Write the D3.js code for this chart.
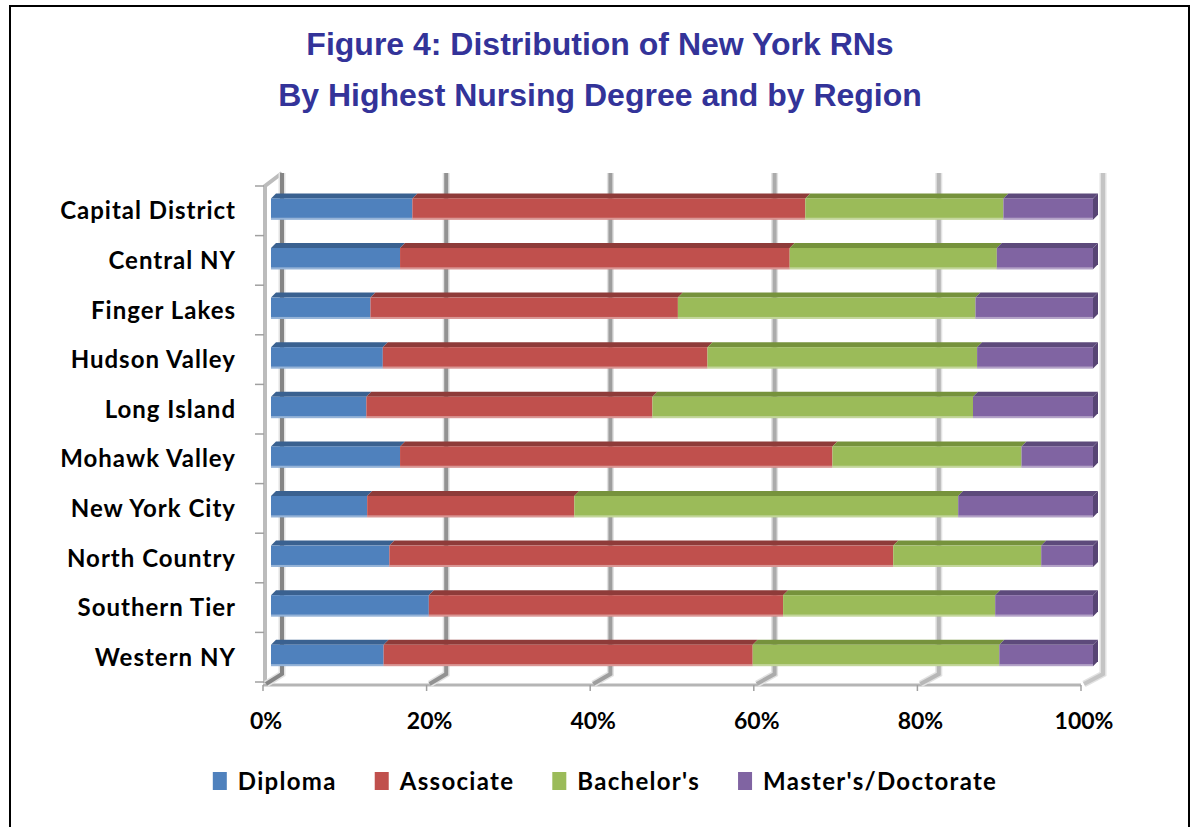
<!DOCTYPE html>
<html>
<head>
<meta charset="utf-8">
<script src="https://d3js.org/d3.v7.min.js"></script>
<style>
  html, body { margin: 0; padding: 0; background: #fff; }
  svg { display: block; }
</style>
</head>
<body>
<script>
const categories = ["Capital District", "Central NY", "Finger Lakes", "Hudson Valley", "Long Island",
  "Mohawk Valley", "New York City", "North Country", "Southern Tier", "Western NY"];
const seriesNames = ["Diploma", "Associate", "Bachelor's", "Master's/Doctorate"];
const diploma   = [17.2, 15.7, 12.1, 13.6, 11.6, 15.7, 11.7, 14.4, 19.2, 13.7];
const associate = [47.8, 47.4, 37.4, 39.5, 34.8, 52.6, 25.2, 61.3, 43.1, 44.9];
const bachelor  = [24.1, 25.2, 36.2, 32.8, 39.0, 23.0, 46.7, 18.0, 25.8, 30.0];
const masters   = [10.9, 11.7, 14.3, 14.1, 14.6,  8.7, 16.4,  6.3, 11.9, 11.4];
const tickValues = [0, 20, 40, 60, 80, 100];
const tickLabels = ["0%", "20%", "40%", "60%", "80%", "100%"];
const titleLines = ["Figure 4: Distribution of New York RNs", "By Highest Nursing Degree and by Region"];

const frontColors = ["#4F81BD", "#C0504D", "#9BBB59", "#8064A2"];
const topColors   = ["#3A6190", "#8E3B39", "#76923C", "#5D4A7B"];
const sideColors  = ["#3A6190", "#8E3B39", "#76923C", "#574474"];

const W = 1193, H = 827;
const svg = d3.select("body").append("svg").attr("width", W).attr("height", H);

// outer border
svg.append("rect").attr("x", 10).attr("y", 6).attr("width", 1179).attr("height", 840)
  .attr("fill", "#fff").attr("stroke", "#000").attr("stroke-width", 2);

// title
svg.append("g").selectAll("text").data(titleLines).join("text")
  .attr("x", 600).attr("y", (d, i) => 55 + i * 51)
  .attr("text-anchor", "middle")
  .attr("font-family", "Liberation Sans, Arial, sans-serif")
  .attr("font-weight", "bold").attr("font-size", 32)
  .attr("fill", "#333399").text(d => d);

// scales
const xBar   = d3.scaleLinear().domain([0, 100]).range([271, 1093]);
const xBack  = d3.scaleLinear().domain([0, 100]).range([282, 1103]);
const xFront = d3.scaleLinear().domain([0, 100]).range([263, 1081]);
const y = d3.scaleBand().domain(categories).range([186, 682]).paddingInner(0).paddingOuter(0);
const bw = y.bandwidth();
const backTop = 173, backBottom = 674, floorY = 685;

const gridColor = d3.scaleLinear().domain([0, 100]).range(["#858585", "#c4c4c4"]);

// floor front edge and left wall edge
const frame = svg.append("g").attr("fill", "none");
frame.append("line").attr("x1", xFront(0)).attr("x2", xFront(100))
  .attr("y1", floorY).attr("y2", floorY).attr("stroke", "#b5b5b5").attr("stroke-width", 3);
frame.append("path")
  .attr("d", `M${xFront(0) + 2},${floorY - 2} L${xFront(0) + 2},${y.range()[0]} L${xBack(0)},${backTop}`)
  .attr("stroke", "#bcbcbc").attr("stroke-width", 4);

// gridlines (back wall + floor)
const grid = svg.append("g").attr("fill", "none");
tickValues.forEach(t => {
  const d = `M${xBack(t)},${backTop} L${xBack(t)},${backBottom} L${xFront(t) + 3},${floorY - 1}`;
  grid.append("path").attr("d", d).attr("stroke", "#e2e2e2").attr("stroke-width", 7);
  grid.append("path").attr("d", d).attr("stroke", gridColor(t)).attr("stroke-width", 4);
});

// left axis ticks
svg.append("g").selectAll("line").data(d3.range(categories.length + 1)).join("line")
  .attr("x1", xFront(0) - 8).attr("x2", xFront(0) + 1)
  .attr("y1", i => y.range()[0] + i * bw).attr("y2", i => y.range()[0] + i * bw)
  .attr("stroke", "#a0a0a0").attr("stroke-width", 1.5);

// bottom axis ticks
svg.append("g").selectAll("line").data(tickValues).join("line")
  .attr("x1", d => xFront(d)).attr("x2", d => xFront(d))
  .attr("y1", floorY).attr("y2", floorY + 6)
  .attr("stroke", "#a0a0a0").attr("stroke-width", 1.5);

// stacked data
const rows = categories.map((c, i) => ({ cat: c, v: [diploma[i], associate[i], bachelor[i], masters[i]] }));
const dep = 5;
const barsG = svg.append("g");
rows.forEach(r => {
  const yt = y(r.cat) + bw * 0.25;
  const h = bw * 0.43;
  let acc = 0;
  r.v.forEach((val, k) => {
    const x0 = xBar(acc), x1 = xBar(acc + val);
    acc += val;
    barsG.append("path")
      .attr("d", `M${x0},${yt} L${x0 + dep},${yt - dep} L${x1 + dep},${yt - dep} L${x1},${yt} Z`)
      .attr("fill", topColors[k]);
    barsG.append("rect").attr("x", x0).attr("y", yt).attr("width", x1 - x0).attr("height", h)
      .attr("fill", frontColors[k]);
    barsG.append("rect").attr("x", x0).attr("y", yt + h - 2).attr("width", x1 - x0).attr("height", 2)
      .attr("fill", "#fff").attr("opacity", 0.4);
    if (k === r.v.length - 1) {
      barsG.append("path")
        .attr("d", `M${x1},${yt} L${x1 + dep},${yt - dep} L${x1 + dep},${yt + h - dep} L${x1},${yt + h} Z`)
        .attr("fill", sideColors[k]);
    }
  });
});

// category labels
const labelFont = "Lato, 'Open Sans', sans-serif";
svg.append("g").selectAll("text").data(categories).join("text")
  .attr("x", 236).attr("y", d => y(d) + bw * 0.25 + bw * 0.43 / 2 + 2)
  .attr("dy", "0.35em")
  .attr("text-anchor", "end")
  .attr("font-family", labelFont).attr("font-weight", "bold").attr("font-size", 24)
  .attr("letter-spacing", 1)
  .attr("fill", "#000").text(d => d);

// x tick labels
svg.append("g").selectAll("text").data(tickValues).join("text")
  .attr("x", d => xFront(d) + 3).attr("y", 729)
  .attr("text-anchor", "middle")
  .attr("font-family", labelFont).attr("font-weight", "bold").attr("font-size", 23)
  .attr("fill", "#000").text((d, i) => tickLabels[i]);

// legend
const leg = svg.append("g");
const items = leg.selectAll("g").data(seriesNames).join("g");
items.append("rect").attr("width", 14).attr("height", 18).attr("y", 772)
  .attr("fill", (d, i) => frontColors[i]);
items.append("text").attr("x", 25).attr("y", 790)
  .attr("font-family", labelFont).attr("font-weight", "bold").attr("font-size", 24)
  .attr("letter-spacing", 1.3)
  .attr("fill", "#000").text(d => d);
let lx = 0;
const widths = [];
items.each(function () { widths.push(this.querySelector("text").getComputedTextLength()); });
const gap = 38;
const total = d3.sum(widths) + widths.length * 25 + (widths.length - 1) * gap;
lx = 605 - total / 2;
items.attr("transform", (d, i) => {
  const t = `translate(${lx},0)`;
  lx += 25 + widths[i] + gap;
  return t;
});
</script>
</body>
</html>
